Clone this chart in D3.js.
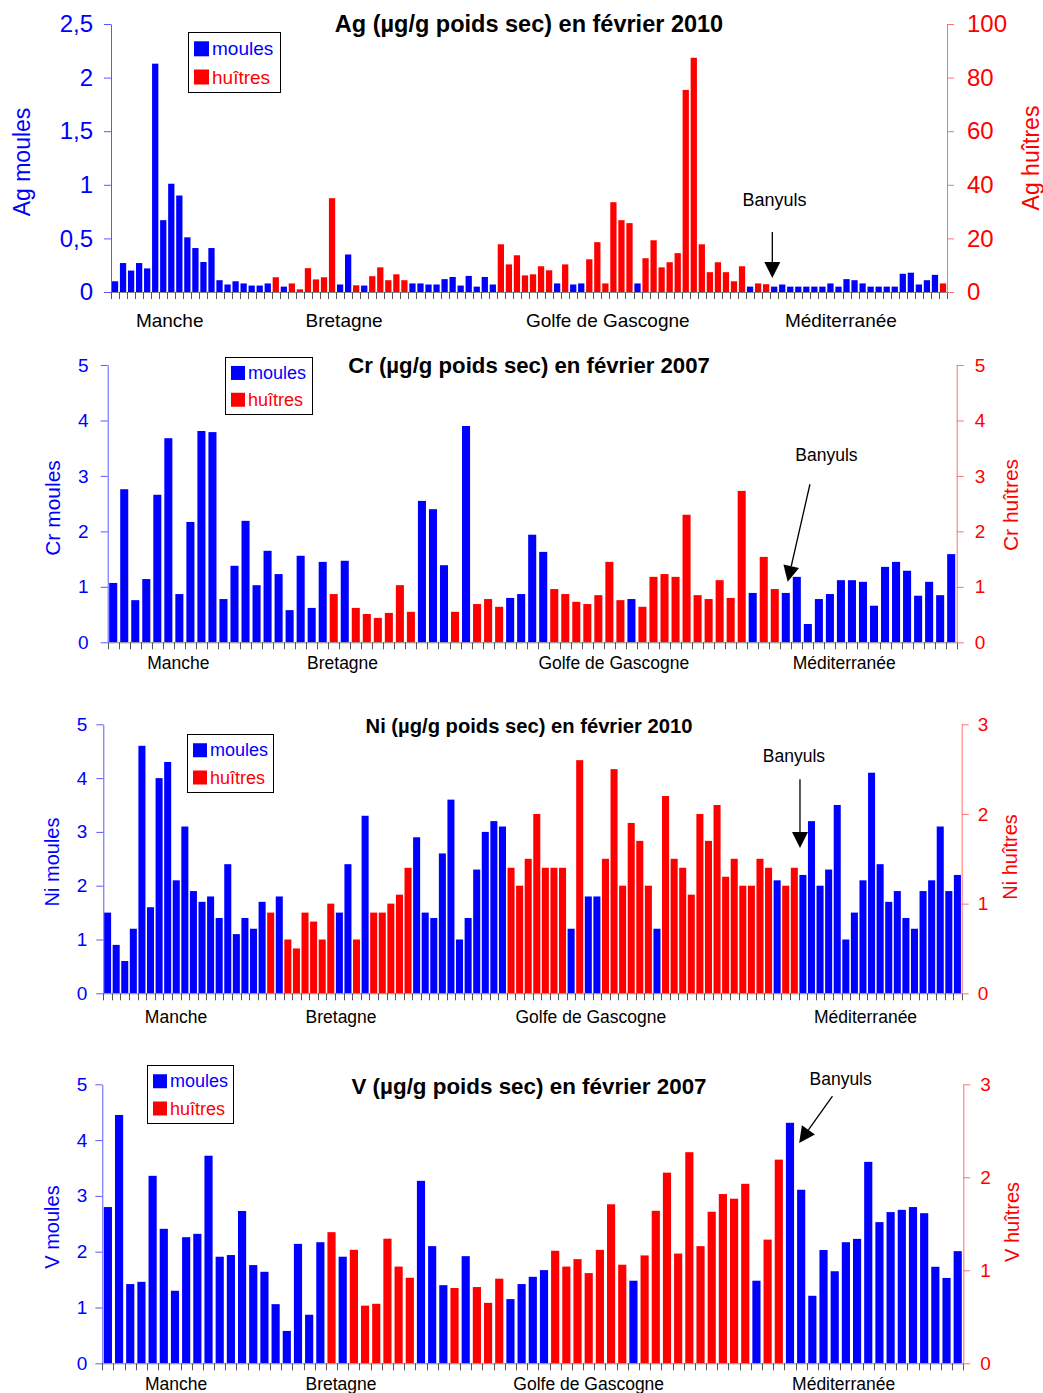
<!DOCTYPE html>
<html>
<head>
<meta charset="utf-8">
<script src="https://cdn.jsdelivr.net/npm/d3@7"></script>
<style>
  body { margin: 0; background: #fff; }
  svg { display: block; }
  text { font-family: "Liberation Sans", Arial, sans-serif; }
</style>
</head>
<body>
<svg id="chart" width="1043" height="1393"></svg>
<script>
// regions along the coast
const regions = ["Manche", "Bretagne", "Golfe de Gascogne", "Méditerranée"];

// Ag fevrier 2010 (m = moules, h = huitres)
const agVal = [0.10,0.27,0.20,0.27,0.22,2.13,0.67,1.01,0.90,0.51,
  0.41,0.28,0.41,0.11,0.07,0.10,0.08,0.06,0.06,0.08,
  5.5,0.05,3.2,1.0,8.9,4.7,5.5,35.0,0.07,0.35,
  2.5,0.06,5.9,9.2,4.4,6.6,4.4,0.08,0.08,0.07,
  0.07,0.12,0.14,0.06,0.15,0.05,0.14,0.07,17.8,10.3,
  13.7,6.2,6.6,9.6,8.1,0.08,10.3,0.07,0.08,12.2,
  18.6,3.2,33.5,26.8,25.7,0.08,12.6,19.3,9.2,11.1,
  14.5,75.4,87.4,17.8,7.4,11.1,7.4,4.0,9.6,0.05,
  3.2,2.9,0.05,0.07,0.05,0.05,0.05,0.05,0.05,0.08,
  0.05,0.12,0.11,0.08,0.05,0.05,0.05,0.05,0.17,0.18,
  0.07,0.11,0.16,3.2];
const agEsp = ("mmmmmmmmmmmmmmmmmmmm" + "hmhhhhhhmm" + "hmhhhhhmmm" + "mmmmmmmmhh" +
  "hhhhhmhmmh" + "hhhhhmhhhh" + "hhhhhhhhhm" + "hhmmmmmmmm" + "mmmmmmmmmm" + "mmmh").split("");

// Cr fevrier 2007
const crVal = [1.07,2.76,0.76,1.14,2.66,3.68,0.87,2.17,3.81,3.79,
  0.78,1.38,2.19,1.03,1.65,1.23,0.58,1.56,0.62,1.45,
  0.87,1.47,0.62,0.51,0.44,0.53,1.03,0.55,2.55,2.40,
  1.39,0.55,3.90,0.69,0.78,0.64,0.80,0.87,1.94,1.63,
  0.96,0.87,0.73,0.69,0.85,1.45,0.76,0.78,0.64,1.18,
  1.23,1.18,2.30,0.85,0.78,1.12,0.80,2.73,0.89,1.54,
  0.96,0.89,1.18,0.33,0.78,0.87,1.12,1.12,1.09,0.66,
  1.36,1.45,1.29,0.84,1.09,0.85,1.59];

// species of the 2007 sites (Cr and V)
const esp2007 = ("mmmmmmmmmmmmmmmmmmmm" + "hmhhhhhhmm" + "mhmhhhmmmm" + "hhhhhhhmhh" +
  "hhhhhhhhmh" + "hmmmmmmmmm" + "mmmmmmm").split("");

// Ni fevrier 2010
const niVal = [1.5,0.9,0.6,1.2,4.6,1.6,4.0,4.3,2.1,3.1,
  1.9,1.7,1.8,1.4,2.4,1.1,1.4,1.2,1.7,0.9,
  1.8,0.6,0.5,0.9,0.8,0.6,1.0,1.5,2.4,0.6,
  3.3,0.9,0.9,1.0,1.1,1.4,2.9,1.5,1.4,2.6,
  3.6,1.0,1.4,2.3,3.0,3.2,3.1,1.4,1.2,1.5,
  2.0,1.4,1.4,1.4,1.2,2.6,1.8,1.8,1.5,2.5,
  1.2,1.9,1.7,1.2,1.2,2.2,1.5,1.4,1.1,2.0,
  1.7,2.1,1.3,1.5,1.2,1.2,1.5,1.4,2.1,1.2,
  1.4,2.2,3.2,2.0,2.3,3.5,1.0,1.5,2.1,4.1,
  2.4,1.7,1.9,1.4,1.2,1.9,2.1,3.1,1.9,2.2];
const niEsp = ("mmmmmmmmmm" + "mmmmmmmmmh" + "mhhhhhhmmh" + "mhhhhhmmmm" + "mmmmmmmhhh" +
  "hhhhmhmmhh" + "hhhhmhhhhh" + "hhhhhhhhmh" + "hmmmmmmmmm" + "mmmmmmmmmm").split("");

// V fevrier 2007
const vVal = [2.80,4.45,1.42,1.46,3.36,2.41,1.30,2.26,2.32,3.72,
  1.91,1.94,2.73,1.76,1.64,1.06,0.58,2.14,0.87,2.17,
  1.41,1.91,1.22,0.62,0.64,1.34,1.04,0.92,3.27,2.10,
  1.40,0.81,1.92,0.82,0.65,0.91,1.15,1.42,1.55,1.67,
  1.21,1.04,1.12,0.97,1.22,1.71,1.06,1.48,1.16,1.64,
  2.05,1.18,2.27,1.26,1.63,1.82,1.77,1.93,1.48,1.33,
  2.19,4.31,3.11,1.21,2.03,1.65,2.17,2.23,3.61,2.53,
  2.71,2.75,2.80,2.69,1.73,1.53,2.01];

const BLEU = "#0000ff", ROUGE = "#ff0000";
const fmt = d3.formatLocale({decimal: ",", thousands: " ", grouping: [3], currency: ["", ""]}).format("~g");

const svg = d3.select("#chart");

const panels = [
  { title: "Ag (µg/g poids sec) en février 2010", titleSize: 23.5, titleY: 31.5,
    vals: agVal, esp: agEsp, left: 111, right: 947, top: 24, bottom: 292, pad: 0.22,
    yL: [0, 2.5], yLTicks: [0, 0.5, 1, 1.5, 2, 2.5], yR: [0, 100], yRTicks: [0, 20, 40, 60, 80, 100],
    tickFs: 24, padL: 11, padR: 13,
    labelL: "Ag moules", labelR: "Ag huîtres", labelFs: 23, labelLX: 22, labelRX: 1031, labelLY: 162, labelRY: 158,
    legend: { x: 188, y: 32, w: 92, h: 60, sq: 15, fs: 19 },
    regionPos: [7.3, 29.0, 61.8, 90.8], regionY: 320, regionFs: 19,
    ban: { text: [82.55, 0.80], from: [82.27, 0.56], to: [82.27, 0.13], fs: 18 } },
  { title: "Cr (µg/g poids sec) en février 2007", titleSize: 22.2, titleY: 373,
    vals: crVal, esp: esp2007, left: 107.7, right: 956.7, top: 365, bottom: 642.3, pad: 0.27,
    yL: [0, 5], yLTicks: [0, 1, 2, 3, 4, 5], yR: [0, 5], yRTicks: [0, 1, 2, 3, 4, 5],
    tickFs: 19, padL: 12, padR: 11,
    labelL: "Cr moules", labelR: "Cr huîtres", labelFs: 21, labelLX: 52, labelRX: 1010, labelLY: 508, labelRY: 505,
    legend: { x: 225, y: 357, w: 87, h: 57, sq: 14, fs: 18 },
    regionPos: [6.4, 21.3, 45.9, 66.8], regionY: 663, regionFs: 17.5,
    ban: { text: [65.19, 3.27], from: [63.69, 2.85], to: [61.67, 1.09], fs: 17.5 } },
  { title: "Ni (µg/g poids sec) en février 2010", titleSize: 20.2, titleY: 733,
    vals: niVal, esp: niEsp, left: 103.3, right: 961.7, top: 724.3, bottom: 993.3, pad: 0.18,
    yL: [0, 5], yLTicks: [0, 1, 2, 3, 4, 5], yR: [0, 3], yRTicks: [0, 1, 2, 3],
    tickFs: 19, padL: 9, padR: 9,
    labelL: "Ni moules", labelR: "Ni huîtres", labelFs: 20, labelLX: 52, labelRX: 1010, labelLY: 862, labelRY: 857,
    legend: { x: 187, y: 734, w: 86, h: 58, sq: 14, fs: 18 },
    regionPos: [8.47, 27.7, 56.8, 88.8], regionY: 1017, regionFs: 17.5,
    ban: { text: [80.46, 4.30], from: [81.16, 3.98], to: [81.16, 2.70], fs: 17.5 } },
  { title: "V (µg/g poids sec) en février 2007", titleSize: 22.4, titleY: 1094,
    vals: vVal, esp: esp2007, left: 102.3, right: 963.3, top: 1084.3, bottom: 1363.3, pad: 0.27,
    yL: [0, 5], yLTicks: [0, 1, 2, 3, 4, 5], yR: [0, 3], yRTicks: [0, 1, 2, 3],
    tickFs: 19, padL: 8, padR: 10,
    labelL: "V moules", labelR: "V huîtres", labelFs: 20, labelLX: 52, labelRX: 1012, labelLY: 1227, labelRY: 1222,
    legend: { x: 147, y: 1065, w: 86, h: 58, sq: 14, fs: 18 },
    regionPos: [6.6, 21.35, 43.5, 66.3], regionY: 1384, regionFs: 17.5,
    ban: { text: [66.03, 4.99], from: [65.3, 4.79], to: [62.32, 3.95], fs: 17.5 } }
];

function drawPanel(p) {
  const n = p.vals.length;
  const g = svg.append("g");

  const x = d3.scaleBand().domain(d3.range(n)).range([p.left, p.right])
    .paddingInner(p.pad).paddingOuter(p.pad / 2);
  const xl = d3.scaleLinear().domain([0, n]).range([p.left, p.right]);
  const yL = d3.scaleLinear().domain(p.yL).range([p.bottom, p.top]);
  const yR = d3.scaleLinear().domain(p.yR).range([p.bottom, p.top]);
  const yOf = i => p.esp[i] === "m" ? yL : yR;

  // bars
  g.selectAll("rect.bar")
    .data(p.vals)
    .enter()
    .append("rect")
      .attr("class", "bar")
      .attr("x", (d, i) => x(i))
      .attr("width", x.bandwidth())
      .attr("y", (d, i) => yOf(i)(d))
      .attr("height", (d, i) => p.bottom - yOf(i)(d))
      .attr("fill", (d, i) => p.esp[i] === "m" ? BLEU : ROUGE);

  // x axis: line + ticks between sites
  g.append("line")
    .attr("x1", p.left).attr("x2", p.right)
    .attr("y1", p.bottom + 0.5).attr("y2", p.bottom + 0.5)
    .attr("stroke", "#888").attr("stroke-width", 1);
  g.selectAll("line.xt")
    .data(d3.range(n + 1))
    .enter()
    .append("line")
      .attr("x1", d => Math.round(xl(d)) + 0.5).attr("x2", d => Math.round(xl(d)) + 0.5)
      .attr("y1", p.bottom).attr("y2", p.bottom + 7)
      .attr("stroke", "#555").attr("stroke-width", 1);

  // y axes
  const axL = g.append("g").attr("transform", "translate(" + p.left + ",0)")
    .call(d3.axisLeft(yL).tickValues(p.yLTicks).tickFormat(fmt).tickSize(7).tickSizeOuter(0).tickPadding(p.padL));
  axL.select(".domain").attr("stroke", "#5a5aff");
  axL.selectAll(".tick line").attr("stroke", "#5a5aff");
  axL.selectAll(".tick text").attr("fill", BLEU).style("font-size", p.tickFs + "px")
    .style("font-family", '"Liberation Sans", Arial, sans-serif');

  const axR = g.append("g").attr("transform", "translate(" + p.right + ",0)")
    .call(d3.axisRight(yR).tickValues(p.yRTicks).tickFormat(fmt).tickSize(7).tickSizeOuter(0).tickPadding(p.padR));
  axR.select(".domain").attr("stroke", "#ff7070");
  axR.selectAll(".tick line").attr("stroke", "#ff7070");
  axR.selectAll(".tick text").attr("fill", ROUGE).style("font-size", p.tickFs + "px")
    .style("font-family", '"Liberation Sans", Arial, sans-serif');

  // axis titles
  g.append("text")
    .attr("transform", "translate(" + p.labelLX + "," + p.labelLY + ") rotate(-90)")
    .attr("text-anchor", "middle").attr("dominant-baseline", "central")
    .attr("fill", BLEU).style("font-size", p.labelFs + "px")
    .text(p.labelL);
  g.append("text")
    .attr("transform", "translate(" + p.labelRX + "," + p.labelRY + ") rotate(-90)")
    .attr("text-anchor", "middle").attr("dominant-baseline", "central")
    .attr("fill", ROUGE).style("font-size", p.labelFs + "px")
    .text(p.labelR);

  // title
  g.append("text")
    .attr("x", 529).attr("y", p.titleY)
    .attr("text-anchor", "middle")
    .style("font-size", p.titleSize + "px").style("font-weight", "bold")
    .text(p.title);

  // regions
  g.selectAll("text.region")
    .data(regions)
    .enter()
    .append("text")
      .attr("x", (d, i) => xl(p.regionPos[i]))
      .attr("y", p.regionY)
      .attr("text-anchor", "middle").attr("dominant-baseline", "central")
      .style("font-size", p.regionFs + "px")
      .text(d => d);

  // legend
  const lg = p.legend;
  g.append("rect")
    .attr("x", lg.x + 0.5).attr("y", lg.y + 0.5).attr("width", lg.w).attr("height", lg.h)
    .attr("fill", "#fff").attr("stroke", "#000").attr("stroke-width", 1);
  const items = [["moules", BLEU], ["huîtres", ROUGE]];
  items.forEach((it, k) => {
    const yy = lg.y + lg.h * (k === 0 ? 0.28 : 0.75);
    g.append("rect")
      .attr("x", lg.x + 6).attr("y", yy - lg.sq / 2)
      .attr("width", lg.sq).attr("height", lg.sq)
      .attr("fill", it[1]);
    g.append("text")
      .attr("x", lg.x + lg.sq + 9).attr("y", yy)
      .attr("dominant-baseline", "central")
      .attr("fill", it[1]).style("font-size", lg.fs + "px")
      .text(it[0]);
  });

  // Banyuls annotation
  const b = p.ban;
  g.append("text")
    .attr("x", xl(b.text[0])).attr("y", yL(b.text[1]))
    .attr("text-anchor", "middle")
    .style("font-size", b.fs + "px")
    .text("Banyuls");
  const x0 = xl(b.from[0]), y0 = yL(b.from[1]), x1 = xl(b.to[0]), y1 = yL(b.to[1]);
  const len = Math.hypot(x1 - x0, y1 - y0), ux = (x1 - x0) / len, uy = (y1 - y0) / len;
  const hl = 16, hw = 8;
  const bx = x1 - ux * hl, by = y1 - uy * hl;
  g.append("line")
    .attr("x1", x0).attr("y1", y0).attr("x2", bx).attr("y2", by)
    .attr("stroke", "#000").attr("stroke-width", 1.3);
  g.append("path")
    .attr("d", "M" + x1 + "," + y1 + "L" + (bx - uy * hw) + "," + (by + ux * hw) +
      "L" + (bx + uy * hw) + "," + (by - ux * hw) + "Z")
    .attr("fill", "#000");
}

panels.forEach(drawPanel);
</script>
</body>
</html>
